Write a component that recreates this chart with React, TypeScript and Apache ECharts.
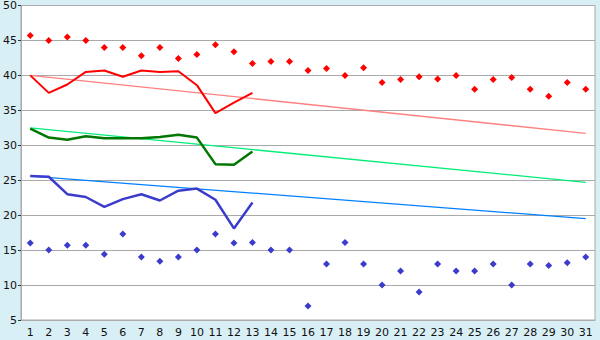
import React, { useEffect, useRef } from "react";
import * as echarts from "echarts";

const days = Array.from({ length: 31 }, (_, i) => String(i + 1));

const highDots = [45.7, 45, 45.5, 45, 44, 44, 42.8, 44, 42.4, 43, 44.4, 43.4, 41.7, 42, 42, 40.7, 41, 40, 41.1, 39, 39.4, 39.8, 39.5, 40, 38, 39.4, 39.7, 38, 37, 39, 38];
const lowDots = [16, 15, 15.7, 15.7, 14.4, 17.3, 14, 13.4, 14, 15, 17.3, 16, 16.1, 15, 15, 7, 13, 16.1, 13, 10, 12, 9, 13, 12, 12, 13, 10, 13, 12.8, 13.2, 14];
const redLine = [40, 37.5, 38.7, 40.5, 40.7, 39.8, 40.7, 40.5, 40.6, 38.6, 34.6, 36.1, 37.5];
const greenLine = [32.4, 31.1, 30.8, 31.3, 31, 31, 31, 31.2, 31.5, 31.1, 27.3, 27.2, 29.1];
const blueLine = [25.6, 25.5, 23, 22.6, 21.2, 22.3, 23, 22.1, 23.5, 23.8, 22.2, 18.1, 21.8];
const redTrend = [40, 31.7];
const greenTrend = [32.5, 24.7];
const blueTrend = [25.6, 19.5];

function trendData(ends: number[]) {
  const arr: (number | null)[] = days.map(() => null);
  arr[0] = ends[0];
  arr[days.length - 1] = ends[1];
  return arr;
}

export default function App() {
  const ref = useRef<HTMLDivElement>(null);
  useEffect(() => {
    if (!ref.current) return;
    const chart = echarts.init(ref.current, null, { renderer: "svg" });
    const font = "DejaVu Sans";
    chart.setOption({
      animation: false,
      backgroundColor: "#d9eff6",
      textStyle: { fontFamily: font },
      grid: {
        left: 20,
        right: 5,
        top: 5,
        bottom: 20,
        show: true,
        backgroundColor: "#ffffff",
        borderColor: "#aaaaaa",
        borderWidth: 1,
      },
      xAxis: {
        type: "category",
        data: days,
        boundaryGap: true,
        axisLine: { lineStyle: { color: "#aaaaaa" } },
        axisTick: { alignWithLabel: true, length: 6, lineStyle: { color: "#333333" } },
        axisLabel: { color: "#111111", fontSize: 11, fontFamily: font, margin: 7, interval: 0 },
        splitLine: { show: false },
      },
      yAxis: {
        type: "value",
        min: 5,
        max: 50,
        interval: 5,
        axisLine: { show: true, lineStyle: { color: "#aaaaaa" } },
        axisTick: { show: true, length: 3, lineStyle: { color: "#333333" } },
        axisLabel: { color: "#111111", fontSize: 11, fontFamily: font, margin: 4 },
        splitLine: { lineStyle: { color: "#aaaaaa", width: 1 } },
      },
      series: [
        {
          type: "line",
          data: trendData(redTrend),
          connectNulls: true,
          symbol: "none",
          lineStyle: { color: "#ff8080", width: 1.3 },
          z: 1,
        },
        {
          type: "line",
          data: trendData(greenTrend),
          connectNulls: true,
          symbol: "none",
          lineStyle: { color: "#00ee77", width: 1.3 },
          z: 1,
        },
        {
          type: "line",
          data: trendData(blueTrend),
          connectNulls: true,
          symbol: "none",
          lineStyle: { color: "#0080ff", width: 1.3 },
          z: 1,
        },
        {
          type: "line",
          data: redLine,
          symbol: "none",
          lineStyle: { color: "#ff0000", width: 2 },
          z: 2,
        },
        {
          type: "line",
          data: greenLine,
          symbol: "none",
          lineStyle: { color: "#007700", width: 2.5 },
          z: 2,
        },
        {
          type: "line",
          data: blueLine,
          symbol: "none",
          lineStyle: { color: "#3c3ccc", width: 2.5 },
          z: 2,
        },
        {
          type: "scatter",
          data: highDots,
          symbol: "diamond",
          symbolSize: 7,
          itemStyle: { color: "#ff0000", opacity: 1 },
          z: 3,
        },
        {
          type: "scatter",
          data: lowDots,
          symbol: "diamond",
          symbolSize: 7,
          itemStyle: { color: "#3c3ccc", opacity: 1 },
          z: 3,
        },
      ],
    });
    return () => chart.dispose();
  }, []);
  return (
    <div
      ref={ref}
      style={{ position: "fixed", left: 0, top: 0, width: 600, height: 340 }}
    />
  );
}
